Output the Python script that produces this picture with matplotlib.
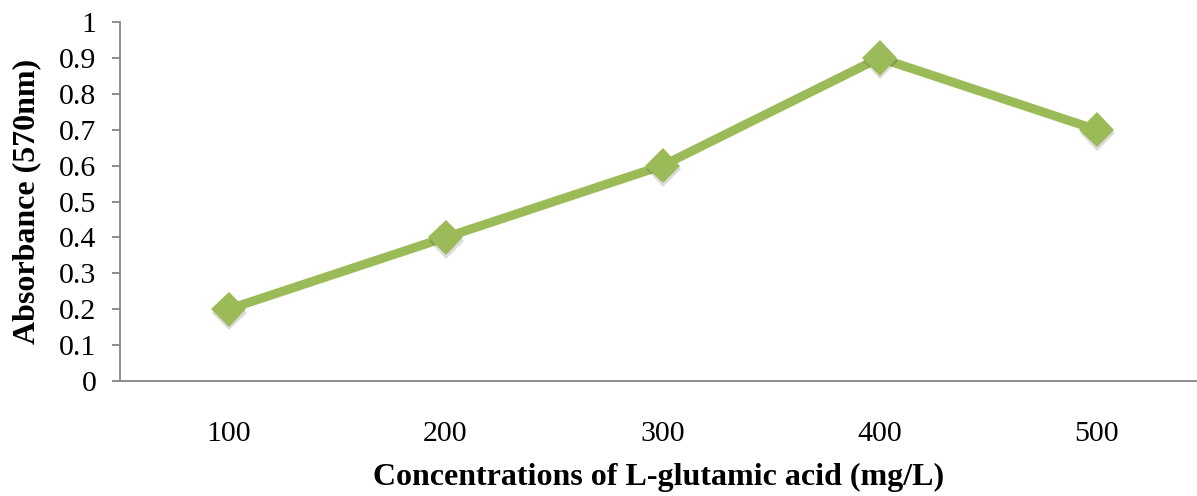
import matplotlib.pyplot as plt
import matplotlib.patheffects as pe

# Absorbance vs L-glutamic acid concentration
concentrations = ["100", "200", "300", "400", "500"]
absorbance = [0.2, 0.4, 0.6, 0.9, 0.7]

plt.rcParams['font.family'] = ['Liberation Serif', 'DejaVu Serif']

fig = plt.figure(figsize=(11.97, 4.96), dpi=100)
ax = fig.add_axes([120 / 1197, (496 - 381) / 496, (1197 - 120) / 1197, (381 - 22) / 496])

x = range(len(concentrations))
green = "#9BBB59"
ax.plot(x, absorbance, color=green, linewidth=6.5, solid_joinstyle="miter", zorder=2)
# markers with a soft shadow underneath
ax.plot(x, absorbance, linestyle="none", marker="D", markersize=18, color=green,
        markeredgewidth=0, zorder=3,
        path_effects=[pe.SimplePatchShadow(offset=(0.5, -2.5), shadow_rgbFace="black", alpha=0.14),
                      pe.Normal()])

ax.set_xlim(-0.5, (1197 - 120) / 217 - 0.5)
ax.set_ylim(0, 1)
ax.set_yticks([i / 10 for i in range(11)])
ax.set_yticklabels(["0"] + ["0.%d" % i for i in range(1, 10)] + ["1"])
ax.set_xticks(list(x))
ax.set_xticklabels(concentrations)

for s in ["top", "right"]:
    ax.spines[s].set_visible(False)
for s in ["left", "bottom"]:
    ax.spines[s].set_color("#868686")
    ax.spines[s].set_linewidth(1.3)
ax.tick_params(axis="y", length=6, width=1.3, color="#868686", labelsize=21.5, pad=11)
ax.tick_params(axis="x", length=0, labelsize=21.5, pad=29)

ax.set_xlabel("Concentrations of L-glutamic acid (mg/L)", fontsize=23, fontweight="bold", labelpad=11)
ax.set_ylabel("Absorbance (570nm)", fontsize=23, fontweight="bold", labelpad=13)

fig.savefig("out.png", dpi=100)
